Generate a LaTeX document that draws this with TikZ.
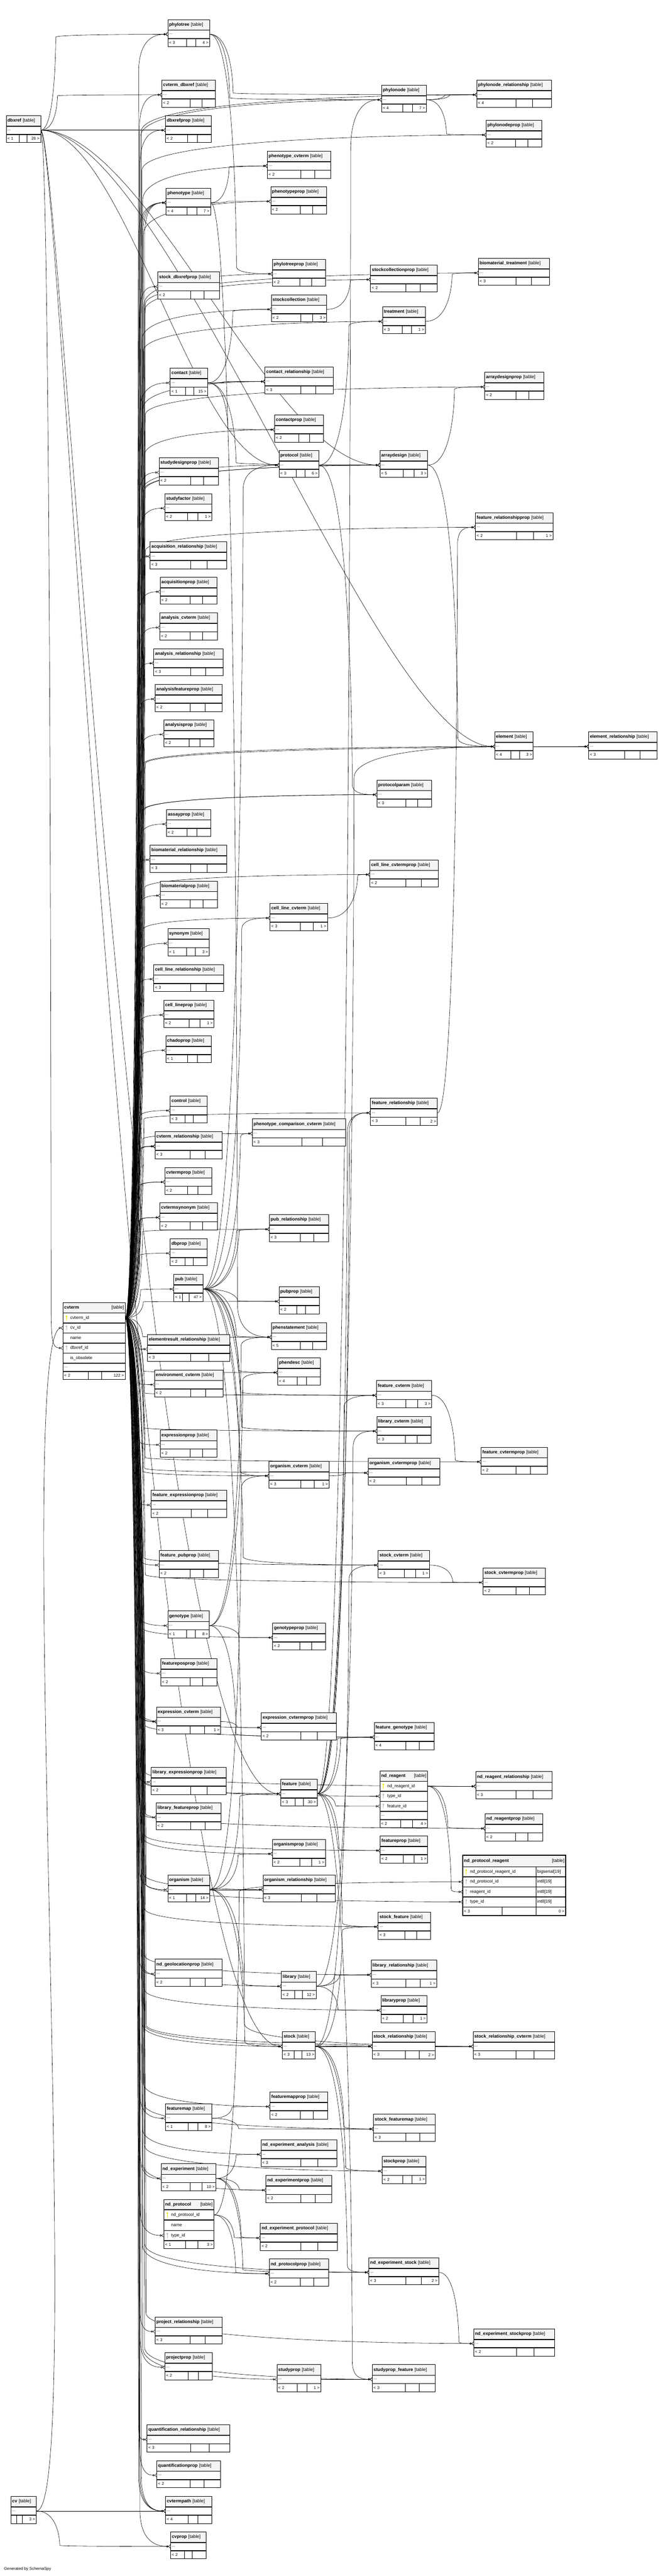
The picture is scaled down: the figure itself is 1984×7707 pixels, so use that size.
\documentclass[tikz,border=0pt]{standalone}
\usepackage{fontspec}
\setmainfont{Liberation Sans}
\usepackage{tikz}
\usetikzlibrary{
		calc,
		arrows.meta,
		positioning
	}
\pgfdeclarelayer{background}
\pgfsetlayers{background,main}
\definecolor{keyyellow}{RGB}{232,226,0}
\definecolor{keygray}{RGB}{185,185,185}
\definecolor{headgray}{RGB}{244,244,244}
\setlength{\parindent}{0pt}
\tikzset{
		>=stealth,
		tblhead/.style={draw, fill=headgray, line width=1pt, inner sep=0pt, minimum height=31pt, align=left, font=\fontsize{13.5}{16}\selectfont},
		tblrow/.style={draw, fill=white, line width=1pt, inner sep=0pt, minimum height=24pt, align=left, font=\fontsize{12}{14}\selectfont},
		colrow/.style={tblrow, minimum height=29pt, font=\fontsize{13}{15}\selectfont},
		tbltxt/.style={inner sep=4pt, font=\fontsize{12}{14}\selectfont},
		tbltag/.style={inner sep=4pt, font=\fontsize{13.5}{16}\selectfont},
		fk/.style={line width=0.9pt, -{Circle[open, length=6pt, width=6pt] Straight Barb[reversed, length=5pt, width=10pt]}}
	}

% a compact table: name, x, y, width, parents, children
\newcommand{\tbl}[6]{%
  \node[tblhead, text width=#4pt, anchor=north west] (#1-t) at (#2,#3) {\hspace*{4pt}\textbf{\detokenize{#1}} [table]};
  \node[tblrow, text width=#4pt, anchor=north west] (#1) at (#1-t.south west) {\hspace*{4pt}...};
  \node[tblrow, text width=#4pt, anchor=north west] (#1-b) at (#1.south west) {\hspace*{4pt}#5};
  \node[tbltxt, anchor=east] (#1-r) at (#1-b.east) {#6};
  \draw[line width=1.8pt] (#1-t.south west) -- (#1-t.south east);
  \pgfmathsetmacro{\cellr}{max(41,0.25*#4)}%
  \pgfmathsetmacro{\cellb}{#4-\cellr}%
  \pgfmathsetmacro{\cella}{\cellb-0.22*#4}%
  \draw[line width=1pt] ($(#1-b.north west)+(\cella,0)$) -- ($(#1-b.south west)+(\cella,0)$)
    ($(#1-b.north west)+(\cellb,0)$) -- ($(#1-b.south west)+(\cellb,0)$);
}
% key icon in a column row
\newcommand{\colkey}[2]{%
  \fill[#2] ($(#1.west)+(11,-5)$) circle (2.8pt);
  \draw[#2, line width=1.4pt] ($(#1.west)+(11,-5)$) -- ++(0,12);
}
% foreign key: parent row -> child row, running down a channel first
\newcommand{\fk}[3][45]{%
  \draw[fk] (#2.east) .. controls +(#1,0) and ($(#2.east)!.97!(#2.east |- #3.west)+(#1,0)$)
    .. ($(#2.east)!.97!(#2.east |- #3.west)+(#1,0)$)
    .. controls ($(#2.east |- #3.west)+(#1,0)$) and +(-25,0) .. (#3.west);
}
% foreign key as one wide curve
\newcommand{\fkc}[4]{%
  \draw[fk] (#1.east) .. controls +(#3,0) and +(-#4,0) .. (#2.west);
}

\begin{document}
\begin{tikzpicture}[x=1pt, y=-1pt]
    \useasboundingbox (0,0) rectangle (1984,7707);

    % the small tables
    \tbl{phylotree}{502}{58}{125}{< 3}{4 >}
    \tbl{cvterm_dbxref}{484}{239}{161}{< 2}{}
    \tbl{dbxrefprop}{495}{345}{137}{< 2}{}
    \tbl{dbxref}{18}{345}{103}{< 1}{26 >}
    \tbl{phylonode}{1142}{254}{134}{< 4}{7 >}
    \tbl{phylonode_relationship}{1427}{239}{224}{< 4}{}
    \tbl{phylonodeprop}{1455}{359}{167}{< 2}{}
    \tbl{phenotype_cvterm}{800}{452}{189}{< 2}{}
    \tbl{phenotype}{497}{562}{133}{< 4}{7 >}
    \tbl{phenotypeprop}{810}{558}{168}{< 2}{}
    \tbl{stock_dbxrefprop}{472}{813}{185}{< 2}{}
    \tbl{phylotreeprop}{815}{775}{159}{< 2}{}
    \tbl{stockcollectionprop}{1109}{792}{199}{< 2}{}
    \tbl{biomaterial_treatment}{1432}{772}{213}{< 3}{}
    \tbl{stockcollection}{812}{881}{166}{< 2}{3 >}
    \tbl{treatment}{1145}{917}{128}{< 3}{1 >}
    \tbl{contact}{509}{1101}{112}{< 1}{15 >}
    \tbl{contact_relationship}{793}{1097}{204}{< 3}{}
    \tbl{arraydesignprop}{1451}{1113}{176}{< 2}{}
    \tbl{contactprop}{822}{1241}{146}{< 2}{}
    \tbl{protocol}{835}{1347}{119}{< 3}{6 >}
    \tbl{arraydesign}{1137}{1347}{143}{< 5}{3 >}
    \tbl{studydesignprop}{476}{1369}{178}{< 2}{}
    \tbl{studyfactor}{493}{1476}{141}{< 2}{1 >}
    \tbl{feature_relationshipprop}{1423}{1533}{232}{< 2}{1 >}
    \tbl{acquisition_relationship}{449}{1620}{229}{< 3}{}
    \tbl{acquisitionprop}{479}{1726}{170}{< 2}{}
    \tbl{analysis_cvterm}{478}{1833}{172}{< 2}{}
    \tbl{analysis_relationship}{460}{1940}{208}{< 3}{}
    \tbl{analysisfeatureprop}{464}{2047}{200}{< 2}{}
    \tbl{analysisprop}{490}{2153}{150}{< 2}{}
    \tbl{element}{1481}{2189}{115}{< 4}{3 >}
    \tbl{element_relationship}{1762}{2189}{205}{< 3}{}
    \tbl{protocolparam}{1128}{2333}{164}{< 3}{}
    \tbl{assayprop}{498}{2421}{132}{< 2}{}
    \tbl{biomaterial_relationship}{449}{2528}{229}{< 3}{}
    \tbl{cell_line_cvtermprop}{1107}{2572}{205}{< 2}{}
    \tbl{biomaterialprop}{479}{2635}{171}{< 2}{}
    \tbl{cell_line_cvterm}{808}{2702}{172}{< 3}{1 >}
    \tbl{synonym}{502}{2778}{124}{< 1}{3 >}
    \tbl{cell_line_relationship}{460}{2885}{209}{< 3}{}
    \tbl{cell_lineprop}{490}{2992}{150}{< 2}{1 >}
    \tbl{chadoprop}{496}{3098}{136}{< 1}{}
    \tbl{control}{509}{3278}{111}{< 3}{}
    \tbl{feature_relationship}{1109}{3285}{200}{< 3}{2 >}
    \tbl{phenotype_comparison_cvterm}{755}{3347}{280}{< 3}{}
    \tbl{cvterm_relationship}{464}{3385}{200}{< 3}{}
    \tbl{cvtermprop}{493}{3492}{141}{< 2}{}
    \tbl{cvtermsynonym}{478}{3598}{172}{< 2}{}
    \tbl{pub_relationship}{806}{3633}{177}{< 3}{}
    \tbl{dbprop}{509}{3705}{111}{< 2}{}
    \tbl{pub}{520}{3812}{87}{< 1}{47 >}
    \tbl{pubprop}{835}{3849}{120}{< 2}{}
    \tbl{elementresult_relationship}{441}{3992}{246}{< 3}{}
    \tbl{phenstatement}{812}{3956}{165}{< 5}{}
    \tbl{phendesc}{831}{4062}{128}{< 4}{}
    \tbl{environment_cvterm}{462}{4098}{205}{< 2}{}
    \tbl{feature_cvterm}{1127}{4130}{165}{< 3}{3 >}
    \tbl{library_cvterm}{1128}{4237}{162}{< 3}{}
    \tbl{expressionprop}{479}{4278}{170}{< 2}{}
    \tbl{feature_cvtermprop}{1440}{4329}{198}{< 2}{}
    \tbl{organism_cvtermprop}{1102}{4362}{215}{< 2}{}
    \tbl{organism_cvterm}{805}{4371}{180}{< 3}{1 >}
    \tbl{feature_expressionprop}{452}{4458}{226}{< 2}{}
    \tbl{feature_pubprop}{476}{4638}{177}{< 2}{}
    \tbl{stock_cvterm}{1132}{4638}{153}{< 3}{1 >}
    \tbl{stock_cvtermprop}{1446}{4690}{186}{< 2}{}
    \tbl{genotype}{502}{4819}{124}{< 1}{8 >}
    \tbl{genotypeprop}{816}{4855}{158}{< 2}{}
    \tbl{featureposprop}{481}{4962}{168}{< 2}{}
    \tbl{expression_cvterm}{468}{5106}{192}{< 3}{1 >}
    \tbl{expression_cvtermprop}{782}{5124}{225}{< 2}{}
    \tbl{feature_genotype}{1120}{5153}{180}{< 4}{}
    \tbl{library_expressionprop}{452}{5287}{224}{< 2}{}
    \tbl{feature}{840}{5322}{109}{< 3}{30 >}
    \tbl{nd_reagent_relationship}{1424}{5300}{229}{< 3}{}
    \tbl{library_featureprop}{467}{5393}{195}{< 2}{}
    \tbl{nd_reagentprop}{1452}{5426}{172}{< 2}{}
    \tbl{featureprop}{1138}{5492}{142}{< 2}{1 >}
    \tbl{organismprop}{815}{5502}{159}{< 2}{1 >}
    \tbl{organism}{502}{5609}{125}{< 1}{14 >}
    \tbl{organism_relationship}{787}{5609}{216}{< 3}{}
    \tbl{stock_feature}{1132}{5720}{156}{< 3}{}
    \tbl{nd_geolocationprop}{464}{5861}{200}{< 2}{}
    \tbl{library_relationship}{1111}{5864}{196}{< 3}{1 >}
    \tbl{library}{842}{5898}{104}{< 2}{12 >}
    \tbl{libraryprop}{1140}{5970}{138}{< 2}{1 >}
    \tbl{stock}{845}{6078}{99}{< 3}{13 >}
    \tbl{stock_relationship}{1114}{6078}{189}{< 3}{2 >}
    \tbl{stock_relationship_cvterm}{1416}{6078}{244}{< 3}{}
    \tbl{featuremapprop}{808}{6258}{172}{< 2}{}
    \tbl{featuremap}{495}{6293}{139}{< 1}{8 >}
    \tbl{stock_featuremap}{1118}{6325}{184}{< 3}{}
    \tbl{nd_experiment_analysis}{781}{6401}{227}{< 3}{}
    \tbl{stockprop}{1144}{6451}{131}{< 2}{1 >}
    \tbl{nd_experiment}{482}{6473}{164}{< 2}{10 >}
    \tbl{nd_experimentprop}{796}{6508}{197}{< 2}{}
    \tbl{nd_experiment_protocol}{779}{6651}{230}{< 2}{}
    \tbl{nd_protocolprop}{806}{6758}{177}{< 2}{}
    \tbl{nd_experiment_stock}{1104}{6754}{209}{< 3}{2 >}
    \tbl{project_relationship}{464}{6931}{200}{< 3}{}
    \tbl{nd_experiment_stockprop}{1418}{6967}{242}{< 2}{}
    \tbl{projectprop}{493}{7038}{142}{< 2}{}
    \tbl{studyprop}{829}{7074}{131}{< 2}{1 >}
    \tbl{studyprop_feature}{1114}{7074}{189}{< 3}{}
    \tbl{quantification_relationship}{440}{7254}{248}{< 3}{}
    \tbl{quantificationprop}{469}{7361}{190}{< 2}{}
    \tbl{cv}{32}{7468}{76}{}{3 >}
    \tbl{cvtermpath}{495}{7468}{139}{< 4}{}
    \tbl{cvprop}{510}{7574}{107}{< 2}{}

    % cvterm with its columns
    \node[tblhead, text width=186pt, anchor=north west] (cvterm-t) at (188,3896) {\hspace*{4pt}\textbf{cvterm}};
    \node[tbltag, anchor=east] (cvterm-tt) at (cvterm-t.east) {[table]};
    \node[colrow, text width=186pt, anchor=north west] (cvterm) at (cvterm-t.south west) {\hspace*{22pt}cvterm\_id};
    \node[colrow, text width=186pt, anchor=north west] (cvterm-cv) at (cvterm.south west) {\hspace*{22pt}cv\_id};
    \node[colrow, text width=186pt, anchor=north west] (cvterm-name) at (cvterm-cv.south west) {\hspace*{22pt}name};
    \node[colrow, text width=186pt, anchor=north west] (cvterm-dbxref) at (cvterm-name.south west) {\hspace*{22pt}dbxref\_id};
    \node[colrow, text width=186pt, anchor=north west] (cvterm-obs) at (cvterm-dbxref.south west) {\hspace*{22pt}is\_obsolete};
    \node[tblrow, text width=186pt, anchor=north west] (cvterm-more) at (cvterm-obs.south west) {\hspace*{4pt}...};
    \node[tblrow, text width=186pt, anchor=north west] (cvterm-b) at (cvterm-more.south west) {\hspace*{4pt}< 2};
    \node[tbltxt, anchor=east] (cvterm-r) at (cvterm-b.east) {122 >};
    \draw[line width=1.8pt] (cvterm-t.south west) -- (cvterm-t.south east);
    \draw[line width=1pt] ($(cvterm-b.north west)+(76,0)$) -- ($(cvterm-b.south west)+(76,0)$)
        ($(cvterm-b.north west)+(116,0)$) -- ($(cvterm-b.south west)+(116,0)$);
    \colkey{cvterm}{keyyellow}
    \colkey{cvterm-cv}{keygray}
    \colkey{cvterm-dbxref}{keygray}

    % nd_reagent with its columns
    \node[tblhead, text width=143pt, minimum height=30pt, anchor=north west] (nd_reagent-t) at (1137,5298) {\hspace*{4pt}\textbf{nd\_reagent}};
    \node[tbltag, anchor=east] (nd_reagent-tt) at (nd_reagent-t.east) {[table]};
    \node[colrow, text width=143pt, anchor=north west] (nd_reagent) at (nd_reagent-t.south west) {\hspace*{22pt}nd\_reagent\_id};
    \node[colrow, text width=143pt, anchor=north west] (nd_reagent-type) at (nd_reagent.south west) {\hspace*{22pt}type\_id};
    \node[colrow, text width=143pt, anchor=north west] (nd_reagent-feature) at (nd_reagent-type.south west) {\hspace*{22pt}feature\_id};
    \node[tblrow, text width=143pt, anchor=north west] (nd_reagent-more) at (nd_reagent-feature.south west) {\hspace*{4pt}...};
    \node[tblrow, text width=143pt, anchor=north west] (nd_reagent-b) at (nd_reagent-more.south west) {\hspace*{4pt}< 2};
    \node[tbltxt, anchor=east] (nd_reagent-r) at (nd_reagent-b.east) {4 >};
    \draw[line width=1.8pt] (nd_reagent-t.south west) -- (nd_reagent-t.south east);
    \draw[line width=1pt] ($(nd_reagent-b.north west)+(63,0)$) -- ($(nd_reagent-b.south west)+(63,0)$)
        ($(nd_reagent-b.north west)+(98,0)$) -- ($(nd_reagent-b.south west)+(98,0)$);
    \colkey{nd_reagent}{keyyellow}
    \colkey{nd_reagent-type}{keygray}
    \colkey{nd_reagent-feature}{keygray}

    % nd_protocol_reagent, the table in focus
    \node[tblhead, text width=308pt, minimum height=33pt, anchor=north west] (nd_protocol_reagent-t) at (1385,5551) {\hspace*{4pt}\textbf{nd\_protocol\_reagent}};
    \node[tbltag, anchor=east] (nd_protocol_reagent-tt) at (nd_protocol_reagent-t.east) {[table]};
    \node[colrow, text width=308pt, anchor=north west] (nd_protocol_reagent) at (nd_protocol_reagent-t.south west) {\hspace*{22pt}nd\_protocol\_reagent\_id};
    \node[colrow, text width=308pt, anchor=north west] (nd_protocol_reagent-prot) at (nd_protocol_reagent.south west) {\hspace*{22pt}nd\_protocol\_id};
    \node[colrow, text width=308pt, anchor=north west] (nd_protocol_reagent-reag) at (nd_protocol_reagent-prot.south west) {\hspace*{22pt}reagent\_id};
    \node[colrow, text width=308pt, anchor=north west] (nd_protocol_reagent-type) at (nd_protocol_reagent-reag.south west) {\hspace*{22pt}type\_id};
    \node[tblrow, text width=308pt, minimum height=25pt, anchor=north west] (nd_protocol_reagent-b) at (nd_protocol_reagent-type.south west) {\hspace*{4pt}< 3};
    \node[tbltxt, anchor=east] (nd_protocol_reagent-r) at (nd_protocol_reagent-b.east) {0 >};
    \node[tbltxt, anchor=west, font=\fontsize{13}{15}\selectfont] (nd_protocol_reagent-ty1) at ($(nd_protocol_reagent.west)+(220,0)$) {bigserial[19]};
    \node[tbltxt, anchor=west, font=\fontsize{13}{15}\selectfont] (nd_protocol_reagent-ty2) at ($(nd_protocol_reagent-prot.west)+(220,0)$) {int8[19]};
    \node[tbltxt, anchor=west, font=\fontsize{13}{15}\selectfont] (nd_protocol_reagent-ty3) at ($(nd_protocol_reagent-reag.west)+(220,0)$) {int8[19]};
    \node[tbltxt, anchor=west, font=\fontsize{13}{15}\selectfont] (nd_protocol_reagent-ty4) at ($(nd_protocol_reagent-type.west)+(220,0)$) {int8[19]};
    \draw[line width=1pt] ($(nd_protocol_reagent.north west)+(220,0)$) -- ($(nd_protocol_reagent-b.south west)+(220,0)$)
        ($(nd_protocol_reagent-b.north west)+(118,0)$) -- ($(nd_protocol_reagent-b.south west)+(118,0)$);
    \draw[line width=1.8pt] (nd_protocol_reagent-t.south west) -- (nd_protocol_reagent-t.south east);
    \draw[line width=3pt] (nd_protocol_reagent-t.north west) rectangle (nd_protocol_reagent-b.south east);
    \colkey{nd_protocol_reagent}{keyyellow}
    \colkey{nd_protocol_reagent-prot}{keygray}
    \colkey{nd_protocol_reagent-reag}{keygray}
    \colkey{nd_protocol_reagent-type}{keygray}

    % nd_protocol with its columns
    \node[tblhead, text width=150pt, minimum height=30pt, anchor=north west] (nd_protocol-t) at (490,6580) {\hspace*{4pt}\textbf{nd\_protocol}};
    \node[tbltag, anchor=east] (nd_protocol-tt) at (nd_protocol-t.east) {[table]};
    \node[colrow, text width=150pt, minimum height=30pt, anchor=north west] (nd_protocol) at (nd_protocol-t.south west) {\hspace*{22pt}nd\_protocol\_id};
    \node[colrow, text width=150pt, minimum height=30pt, anchor=north west] (nd_protocol-name) at (nd_protocol.south west) {\hspace*{22pt}name};
    \node[colrow, text width=150pt, anchor=north west] (nd_protocol-type) at (nd_protocol-name.south west) {\hspace*{22pt}type\_id};
    \node[tblrow, text width=150pt, anchor=north west] (nd_protocol-b) at (nd_protocol-type.south west) {\hspace*{4pt}< 1};
    \node[tbltxt, anchor=east] (nd_protocol-r) at (nd_protocol-b.east) {3 >};
    \draw[line width=1.8pt] (nd_protocol-t.south west) -- (nd_protocol-t.south east);
    \draw[line width=1pt] ($(nd_protocol-b.north west)+(65,0)$) -- ($(nd_protocol-b.south west)+(65,0)$)
        ($(nd_protocol-b.north west)+(102,0)$) -- ($(nd_protocol-b.south west)+(102,0)$);
    \colkey{nd_protocol}{keyyellow}
    \colkey{nd_protocol-type}{keygray}

    % the footer
    \node[anchor=west, inner sep=0pt, font=\fontsize{12}{14}\selectfont] (credit) at (12,7686) {Generated by SchemaSpy};

    \begin{pgfonlayer}{background}
    \fill[white] (0,0) rectangle (1984,7707);

    % dbxref and cv
    \fk[31]{dbxref}{cvterm-dbxref}
    \fk[45]{dbxref}{phylotree}
    \fk[50]{dbxref}{cvterm_dbxref}
    \fk[55]{dbxref}{dbxrefprop}
    \fkc{dbxref}{protocol}{250}{250}
    \fkc{dbxref}{arraydesign}{320}{320}
    \fkc{dbxref}{element}{380}{350}
    \fkc{dbxref}{feature}{60}{420}
    \fkc{dbxref}{stock}{60}{420}
    \fkc{cv}{cvterm-cv}{150}{150}
    \fk[60]{cv}{cvtermpath}
    \fk[70]{cv}{cvprop}

    % cvterm to everything that uses it
    \fk[40]{cvterm}{phylotree}
    \fk[42]{cvterm}{cvterm_dbxref}
    \fk[44]{cvterm}{dbxrefprop}
    \fk[46]{cvterm}{phylonode}
    \fk[48]{cvterm}{phylonode_relationship}
    \fk[50]{cvterm}{phylonodeprop}
    \fk[52]{cvterm}{phenotype_cvterm}
    \fk[40]{cvterm}{phenotype}
    \fk[46]{cvterm}{phenotype}
    \fk[52]{cvterm}{phenotype}
    \fk[58]{cvterm}{phenotype}
    \fk[54]{cvterm}{phenotypeprop}
    \fk[42]{cvterm}{stock_dbxrefprop}
    \fk[56]{cvterm}{phylotreeprop}
    \fk[58]{cvterm}{stockcollectionprop}
    \fk[60]{cvterm}{biomaterial_treatment}
    \fk[50]{cvterm}{stockcollection}
    \fk[54]{cvterm}{treatment}
    \fk[44]{cvterm}{contact}
    \fk[52]{cvterm}{contact_relationship}
    \fk[60]{cvterm}{arraydesignprop}
    \fk[56]{cvterm}{contactprop}
    \fk[50]{cvterm}{protocol}
    \fk[54]{cvterm}{arraydesign}
    \fk[58]{cvterm}{arraydesign}
    \fk[42]{cvterm}{studydesignprop}
    \fk[44]{cvterm}{studyfactor}
    \fk[60]{cvterm}{feature_relationshipprop}
    \fk[40]{cvterm}{acquisition_relationship}
    \fk[42]{cvterm}{acquisitionprop}
    \fk[44]{cvterm}{analysis_cvterm}
    \fk[40]{cvterm}{analysis_relationship}
    \fk[42]{cvterm}{analysisfeatureprop}
    \fk[44]{cvterm}{analysisprop}
    \fk[56]{cvterm}{element}
    \fk[60]{cvterm}{element_relationship}
    \fk[52]{cvterm}{protocolparam}
    \fk[56]{cvterm}{protocolparam}
    \fk[44]{cvterm}{assayprop}
    \fk[40]{cvterm}{biomaterial_relationship}
    \fk[58]{cvterm}{cell_line_cvtermprop}
    \fk[42]{cvterm}{biomaterialprop}
    \fk[52]{cvterm}{cell_line_cvterm}
    \fk[44]{cvterm}{synonym}
    \fk[40]{cvterm}{cell_line_relationship}
    \fk[42]{cvterm}{cell_lineprop}
    \fk[44]{cvterm}{chadoprop}
    \fk[44]{cvterm}{control}
    \fk[56]{cvterm}{feature_relationship}
    \fk[52]{cvterm}{phenotype_comparison_cvterm}
    \fk[40]{cvterm}{cvterm_relationship}
    \fk[44]{cvterm}{cvterm_relationship}
    \fk[48]{cvterm}{cvterm_relationship}
    \fk[42]{cvterm}{cvtermprop}
    \fk[46]{cvterm}{cvtermprop}
    \fk[42]{cvterm}{cvtermsynonym}
    \fk[46]{cvterm}{cvtermsynonym}
    \fk[52]{cvterm}{pub_relationship}
    \fk[44]{cvterm}{dbprop}
    \fk[46]{cvterm}{pub}
    \fk[54]{cvterm}{pubprop}
    \fk[40]{cvterm}{elementresult_relationship}
    \fk[52]{cvterm}{phenstatement}
    \fk[54]{cvterm}{phendesc}
    \fk[40]{cvterm}{environment_cvterm}
    \fk[58]{cvterm}{feature_cvterm}
    \fk[56]{cvterm}{library_cvterm}
    \fk[42]{cvterm}{expressionprop}
    \fk[60]{cvterm}{feature_cvtermprop}
    \fk[58]{cvterm}{organism_cvtermprop}
    \fk[52]{cvterm}{organism_cvterm}
    \fk[40]{cvterm}{feature_expressionprop}
    \fk[42]{cvterm}{feature_pubprop}
    \fk[56]{cvterm}{stock_cvterm}
    \fk[60]{cvterm}{stock_cvtermprop}
    \fk[44]{cvterm}{genotype}
    \fk[52]{cvterm}{genotypeprop}
    \fk[42]{cvterm}{featureposprop}
    \fk[40]{cvterm}{expression_cvterm}
    \fk[46]{cvterm}{expression_cvterm}
    \fk[52]{cvterm}{expression_cvtermprop}
    \fk[58]{cvterm}{feature_genotype}
    \fk[40]{cvterm}{library_expressionprop}
    \fk[52]{cvterm}{feature}
    \fk[56]{cvterm}{nd_reagent-type}
    \fk[60]{cvterm}{nd_reagent_relationship}
    \fk[42]{cvterm}{library_featureprop}
    \fk[60]{cvterm}{nd_reagentprop}
    \fk[58]{cvterm}{featureprop}
    \fk[54]{cvterm}{organismprop}
    \fk[62]{cvterm}{nd_protocol_reagent-type}
    \fk[44]{cvterm}{organism}
    \fk[52]{cvterm}{organism_relationship}
    \fk[58]{cvterm}{stock_feature}
    \fk[42]{cvterm}{nd_geolocationprop}
    \fk[58]{cvterm}{library_relationship}
    \fk[52]{cvterm}{library}
    \fk[58]{cvterm}{libraryprop}
    \fk[52]{cvterm}{stock}
    \fk[58]{cvterm}{stock_relationship}
    \fk[62]{cvterm}{stock_relationship_cvterm}
    \fk[54]{cvterm}{featuremapprop}
    \fk[44]{cvterm}{featuremap}
    \fk[58]{cvterm}{stock_featuremap}
    \fk[52]{cvterm}{nd_experiment_analysis}
    \fk[58]{cvterm}{stockprop}
    \fk[44]{cvterm}{nd_experiment}
    \fk[52]{cvterm}{nd_experimentprop}
    \fk[44]{cvterm}{nd_protocol-type}
    \fk[52]{cvterm}{nd_protocolprop}
    \fk[58]{cvterm}{nd_experiment_stock}
    \fk[42]{cvterm}{project_relationship}
    \fk[62]{cvterm}{nd_experiment_stockprop}
    \fk[44]{cvterm}{projectprop}
    \fk[52]{cvterm}{studyprop}
    \fk[58]{cvterm}{studyprop_feature}
    \fk[40]{cvterm}{quantification_relationship}
    \fk[42]{cvterm}{quantificationprop}
    \fk[40]{cvterm}{cvtermpath}
    \fk[44]{cvterm}{cvtermpath}
    \fk[48]{cvterm}{cvtermpath}
    \fk[44]{cvterm}{cvprop}

    % phylogeny
    \fk[60]{phylotree}{phylonode}
    \fk[70]{phylotree}{phylonode_relationship}
    \fk[80]{phylotree}{phylotreeprop}
    \fk[55]{phylonode}{phylonode_relationship}
    \fk[70]{phylonode}{phylonode_relationship}
    \fk[60]{phylonode}{phylonodeprop}

    % phenotype, contact, protocol, arraydesign
    \fk[55]{phenotype}{phenotype_cvterm}
    \fk[50]{phenotype}{phenotypeprop}
    \fk[80]{phenotype}{phenstatement}
    \fk[70]{stockcollection}{stockcollectionprop}
    \fk[80]{treatment}{biomaterial_treatment}
    \fk[50]{contact}{contact_relationship}
    \fk[65]{contact}{contact_relationship}
    \fk[60]{contact}{contactprop}
    \fk[75]{contact}{stockcollection}
    \fk[85]{contact}{arraydesign}
    \fk[100]{protocol}{protocolparam}
    \fk[90]{protocol}{treatment}
    \fk[45]{protocol}{arraydesign}
    \fk[80]{arraydesign}{arraydesignprop}
    \fk[90]{arraydesign}{element}
    \fk[50]{element}{element_relationship}
    \fk[70]{element}{element_relationship}
    \fk[90]{cell_line_cvterm}{cell_line_cvtermprop}
    \fk[60]{feature_relationship}{feature_relationshipprop}

    % pub
    \fk[100]{pub}{pub_relationship}
    \fk[108]{pub}{pub_relationship}
    \fk[104]{pub}{pubprop}
    \fk[112]{pub}{phenotype_comparison_cvterm}
    \fk[116]{pub}{cell_line_cvterm}
    \fk[120]{pub}{protocol}
    \fk[100]{pub}{phenstatement}
    \fk[106]{pub}{phendesc}
    \fk[112]{pub}{feature_cvterm}
    \fk[116]{pub}{library_cvterm}
    \fk[110]{pub}{organism_cvterm}
    \fk[120]{pub}{stock_cvterm}
    \fk[124]{pub}{stock_relationship_cvterm}

    % the cvterm link tables
    \fk[70]{feature_cvterm}{feature_cvtermprop}
    \fk[50]{organism_cvterm}{organism_cvtermprop}
    \fk[70]{stock_cvterm}{stock_cvtermprop}
    \fk[90]{genotype}{genotypeprop}
    \fk[95]{genotype}{phenstatement}
    \fk[100]{genotype}{phendesc}
    \fk[80]{genotype}{feature_genotype}
    \fk[50]{expression_cvterm}{expression_cvtermprop}

    % feature
    \fk[100]{feature}{phylonode}
    \fk[110]{feature}{element}
    \fk[90]{feature}{feature_relationship}
    \fk[96]{feature}{feature_relationship}
    \fk[80]{feature}{feature_cvterm}
    \fk[60]{feature}{feature_genotype}
    \fk[70]{feature}{feature_genotype}
    \fk[55]{feature}{nd_reagent-feature}
    \fk[65]{feature}{featureprop}
    \fk[75]{feature}{stock_feature}
    \fk[105]{feature}{studyprop_feature}

    % nd_reagent
    \fk[50]{nd_reagent}{nd_reagent_relationship}
    \fk[65]{nd_reagent}{nd_reagent_relationship}
    \fk[60]{nd_reagent}{nd_reagentprop}
    \fk[70]{nd_reagent}{nd_protocol_reagent-reag}

    % organism, library, stock
    \fk[85]{organism}{organismprop}
    \fk[70]{organism}{organism_relationship}
    \fk[80]{organism}{organism_relationship}
    \fk[95]{organism}{organism_cvterm}
    \fk[90]{organism}{feature}
    \fk[100]{organism}{library}
    \fk[105]{organism}{stock}
    \fk[55]{library}{library_relationship}
    \fk[70]{library}{library_relationship}
    \fk[65]{library}{libraryprop}
    \fk[110]{library}{library_cvterm}
    \fk[100]{stock}{stock_cvterm}
    \fk[55]{stock}{stock_relationship}
    \fk[70]{stock}{stock_relationship}
    \fk[80]{stock}{stock_feature}
    \fk[85]{stock}{stock_featuremap}
    \fk[90]{stock}{stockprop}
    \fk[95]{stock}{nd_experiment_stock}
    \fk[60]{stock_relationship}{stock_relationship_cvterm}
    \fk[60]{featuremap}{featuremapprop}
    \fk[80]{featuremap}{stock_featuremap}

    % natural diversity
    \fk[70]{nd_experiment}{nd_experimentprop}
    \fk[60]{nd_experiment}{nd_experiment_analysis}
    \fk[75]{nd_experiment}{nd_experiment_protocol}
    \fk[80]{nd_experiment}{nd_experiment_stock}
    \fk[60]{nd_protocol}{nd_experiment_protocol}
    \fk[65]{nd_protocol}{nd_protocolprop}
    \fk[75]{nd_protocol}{nd_protocol_reagent-prot}
    \fk[60]{nd_experiment_stock}{nd_experiment_stockprop}
    \fk[70]{studyprop}{studyprop_feature}
    \end{pgfonlayer}

\end{tikzpicture}
\end{document}
